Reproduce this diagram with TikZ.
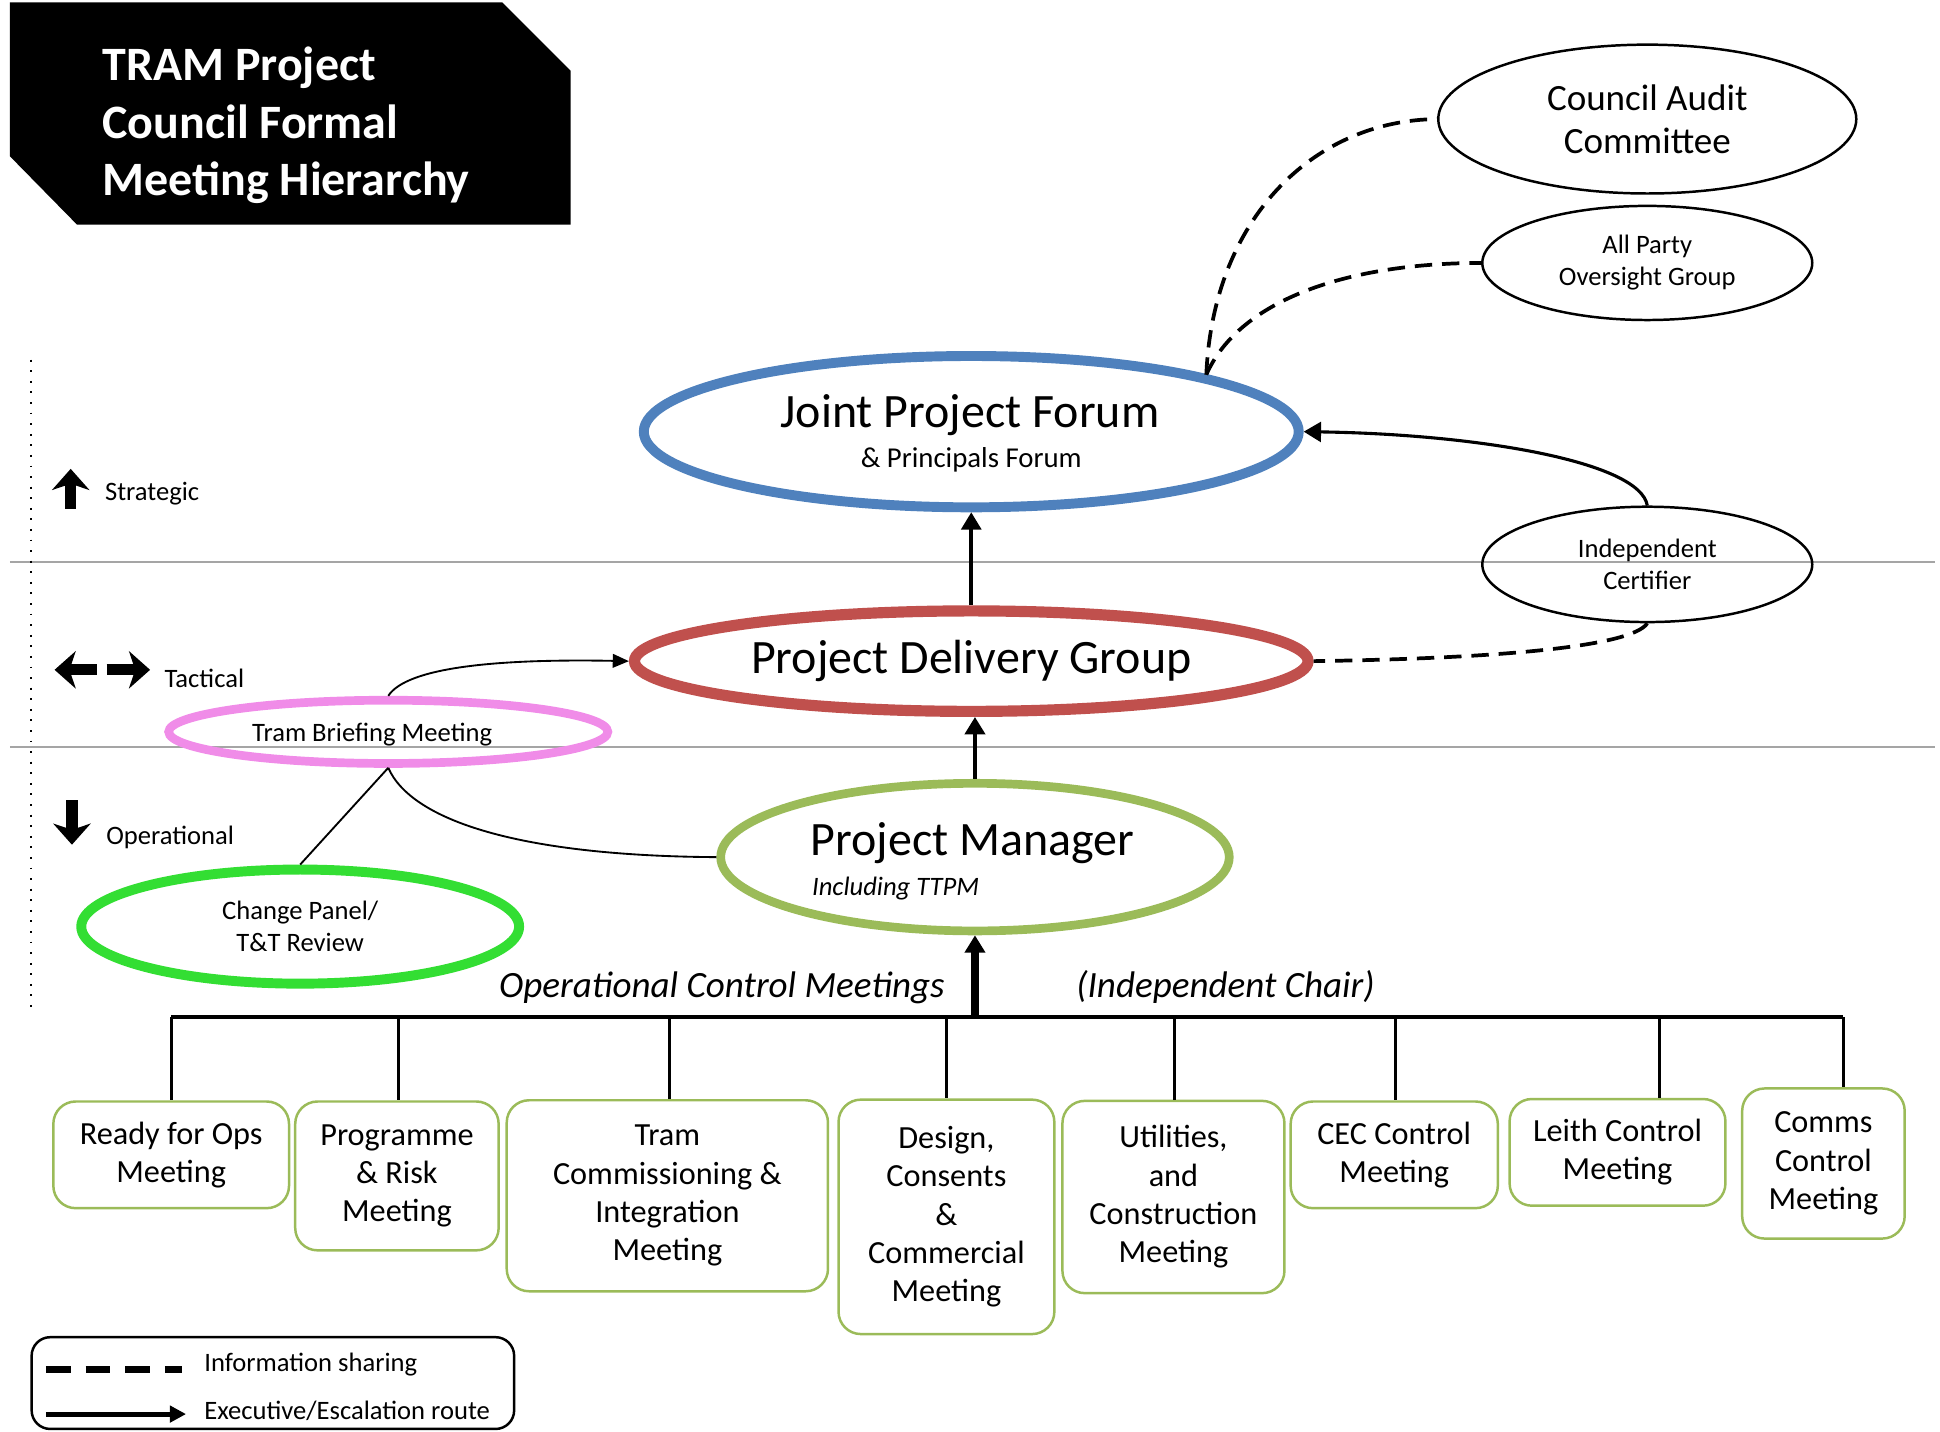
\documentclass[tikz,border=0pt]{standalone}
\usepackage{fontspec}
\setmainfont{Carlito}
\usepackage{tikz}
\usetikzlibrary{shapes.geometric}
\usetikzlibrary{arrows.meta}

\definecolor{jpfblue}{RGB}{79,129,189}
\definecolor{pdgred}{RGB}{192,80,77}
\definecolor{pmgreen}{RGB}{155,187,89}
\definecolor{tbmpink}{RGB}{240,140,232}
\definecolor{cpgreen}{RGB}{51,222,51}
\definecolor{levelgray}{RGB}{165,165,165}

\newcommand{\sizeBig}{\fontsize{11}{13}\selectfont}
\newcommand{\sizeMid}{\fontsize{8.5}{9.9}\selectfont}
\newcommand{\sizeBox}{\fontsize{7.4}{8.8}\selectfont}
\newcommand{\sizeSmall}{\fontsize{6.1}{7.3}\selectfont}
\newcommand{\sizeTitle}{\fontsize{11}{13.1}\selectfont\bfseries}

\tikzstyle{oval}=[ellipse, draw, inner sep=0pt]
\tikzstyle{thinoval}=[oval, line width=0.2mm, align=center]
\tikzstyle{meetbox}=[rectangle, draw=pmgreen, line width=0.2mm, rounded corners=1.8mm, align=center, inner sep=0pt, font=\sizeBox]
\tikzstyle{levellabel}=[anchor=west, inner sep=0pt, font=\sizeSmall]
\tikzstyle{levelline}=[levelgray, line width=0.15mm]
\tikzstyle{levelarrow}=[line width=0.9mm, -{Stealth[length=1.7mm,width=3mm,inset=0.5mm]}]
\tikzstyle{upline}=[-{Triangle[length=1.4mm,width=1.6mm]}]
\tikzstyle{thinline}=[line width=0.15mm]
\tikzstyle{infoline}=[line width=0.3mm, dash pattern=on 1.4mm off 0.8mm]
\tikzstyle{drop}=[line width=0.25mm]

\begin{document}
\begin{tikzpicture}[x=0.1mm,y=-0.1mm]

	  \useasboundingbox (0,0) rectangle (1564,1154);

	  %----------------------------------------------------------------
	  \fill [black] (8,2) -- (405,2) -- (460,57) -- (460,181) -- (62,181) -- (8,126) -- cycle;
	  \node [anchor=west, align=left, inner sep=0pt, text=white, font=\sizeTitle] (title) at (82,101) {TRAM Project\\Council Formal\\Meeting Hierarchy};

	  %----------------------------------------------------------------
	  \draw [levelline] (8,453) -- (1560,453);
	  \draw [levelline] (8,602) -- (1560,602);
	  \draw [dotted, line width=0.15mm] (25,290) -- (25,818);

	  \draw [levelarrow] (57,410) -- (57,378);
	  \draw [levelarrow] (78,540) -- (44,540);
	  \draw [levelarrow] (86,540) -- (121,540);
	  \draw [levelarrow] (58,645) -- (58,681);

	  \node [levellabel] (strategic) at (84,398) {Strategic};
	  \node [levellabel] (tactical) at (132,547) {Tactical};
	  \node [levellabel] (operational) at (85,675) {Operational};

	  %----------------------------------------------------------------
	  \node [oval, draw=jpfblue, line width=0.8mm, minimum width=52.8mm, minimum height=12.2mm] (jpf) at (783,348) {};
	  \node [font=\sizeBig, inner sep=0pt] (jpftext) at (782,335) {Joint Project Forum};
	  \node [font=\fontsize{6.6}{8}\selectfont, inner sep=0pt] (jpfsub) at (783,371) {\& Principals Forum};

	  \node [oval, draw=pdgred, line width=0.9mm, minimum width=54.3mm, minimum height=8.1mm, font=\sizeBig] (pdg) at (783,533) {Project Delivery Group};

	  \node [oval, draw=pmgreen, line width=0.7mm, minimum width=41mm, minimum height=11.9mm] (pm) at (786,691) {};
	  \node [font=\sizeBig, inner sep=0pt] (pmtext) at (784,680) {Project Manager};
	  \node [anchor=west, font=\sizeSmall\itshape, inner sep=0pt] (pmsub) at (654,716) {Including TTPM};

	  \node [oval, draw=tbmpink, line width=0.7mm, minimum width=35.4mm, minimum height=5.1mm] (tbm) at (313,590) {};
	  \node [font=\sizeSmall, inner sep=0pt] (tbmtext) at (300,592) {Tram Briefing Meeting};

	  \node [oval, draw=cpgreen, line width=0.8mm, minimum width=35.3mm, minimum height=9.2mm, align=center, font=\sizeSmall] (cp) at (242,747) {Change Panel/\\T\&T Review};

	  \node [thinoval, minimum width=33.7mm, minimum height=12mm, font=\sizeMid] (cac) at (1328,96) {Council Audit\\Committee};
	  \node [thinoval, minimum width=26.6mm, minimum height=9.2mm, font=\sizeSmall] (apog) at (1328,212) {All Party\\Oversight Group};
	  \node [thinoval, minimum width=26.6mm, minimum height=9.3mm, font=\sizeSmall] (ic) at (1328,455) {Independent\\Certifier};

	  %----------------------------------------------------------------
	  \draw [upline, line width=0.3mm] (pdg.north) -- (jpf.south);
	  \draw [upline, line width=0.4mm] (pm.north) -- (pm.north |- pdg.south);

	  \draw [upline, line width=0.25mm] (ic.north) .. controls (1322,372) and (1190,350) .. (jpf.east);
	  \draw [infoline] (ic.south) .. controls (1315,522) and (1200,531) .. (pdg.east);
	  \draw [infoline] (jpf.north east) .. controls (978,175) and (1060,97) .. (cac.west);
	  \draw [infoline] (jpf.north east) .. controls (1000,240) and (1090,212) .. (apog.west);

	  \draw [thinline, -{Triangle[length=1.3mm,width=1.1mm]}] (tbm.north) .. controls (328,538) and (400,531) .. (pdg.west);
	  \draw [thinline] (tbm.south) -- (cp.north);
	  \draw [thinline] (tbm.south) .. controls (332,662) and (420,690) .. (pm.west);

	  %----------------------------------------------------------------
	  \node [meetbox, minimum width=19mm, minimum height=8.6mm] (ops) at (138,931) {Ready for Ops\\Meeting};
	  \node [meetbox, minimum width=16.4mm, minimum height=12mm] (prog) at (320,948) {Programme\\\& Risk\\Meeting};
	  \node [meetbox, minimum width=25.9mm, minimum height=15.4mm] (tci) at (538,964) {Tram\\Commissioning \&\\Integration\\Meeting};
	  \node [meetbox, minimum width=17.4mm, minimum height=18.9mm] (dcc) at (763,981) {Design,\\Consents\\\&\\Commercial\\Meeting};
	  \node [meetbox, minimum width=17.9mm, minimum height=15.5mm] (ucm) at (946,965) {Utilities,\\and\\Construction\\Meeting};
	  \node [meetbox, minimum width=16.7mm, minimum height=8.6mm] (cec) at (1124,931) {CEC Control\\Meeting};
	  \node [meetbox, minimum width=17.4mm, minimum height=8.6mm] (leith) at (1304,929) {Leith Control\\Meeting};
	  \node [meetbox, minimum width=13.1mm, minimum height=12.1mm] (comms) at (1470,938) {Comms\\Control\\Meeting};

	  \coordinate (dops) at (138,820);
	  \coordinate (dprog) at (321,820);
	  \coordinate (dtci) at (540,820);
	  \coordinate (ddcc) at (763,820);
	  \coordinate (ducm) at (947,820);
	  \coordinate (dcec) at (1125,820);
	  \coordinate (dleith) at (1338,820);
	  \coordinate (dcomms) at (1486,820);
	  \coordinate (hub) at (786,820);

	  \draw [line width=0.3mm] (dops) -- (dcomms);
	  \draw [upline, line width=0.6mm] (hub) -- (pm.south);

	  \draw [drop] (dops) -- (dops |- ops.north);
	  \draw [drop] (dprog) -- (dprog |- prog.north);
	  \draw [drop] (dtci) -- (dtci |- tci.north);
	  \draw [drop] (ddcc) -- (ddcc |- dcc.north);
	  \draw [drop] (ducm) -- (ducm |- ucm.north);
	  \draw [drop] (dcec) -- (dcec |- cec.north);
	  \draw [drop] (dleith) -- (dleith |- leith.north);
	  \draw [drop] (dcomms) -- (dcomms |- comms.north);

	  \node [font=\sizeMid\itshape, inner sep=0pt] (ocm) at (582,796) {Operational Control Meetings};
	  \node [font=\sizeMid\itshape, inner sep=0pt] (chair) at (988,796) {(Independent Chair)};

	  %----------------------------------------------------------------
	  \node [rectangle, draw, line width=0.2mm, rounded corners=1.5mm, minimum width=38.9mm, minimum height=7.4mm] (legend) at (220,1115) {};
	  \coordinate (dashA) at (37,1104);
	  \coordinate (dashB) at (147,1104);
	  \coordinate (arrA) at (37,1140);
	  \coordinate (arrB) at (150,1140);
	  \draw [line width=0.5mm, dash pattern=on 2mm off 1.2mm] (dashA) -- (dashB);
	  \draw [line width=0.4mm, -{Triangle[length=1.3mm,width=1.3mm]}] (arrA) -- (arrB);
	  \node [levellabel] (infotext) at (164,1100) {Information sharing};
	  \node [levellabel] (exectext) at (164,1137) {Executive/Escalation route};

\end{tikzpicture}
\end{document}
